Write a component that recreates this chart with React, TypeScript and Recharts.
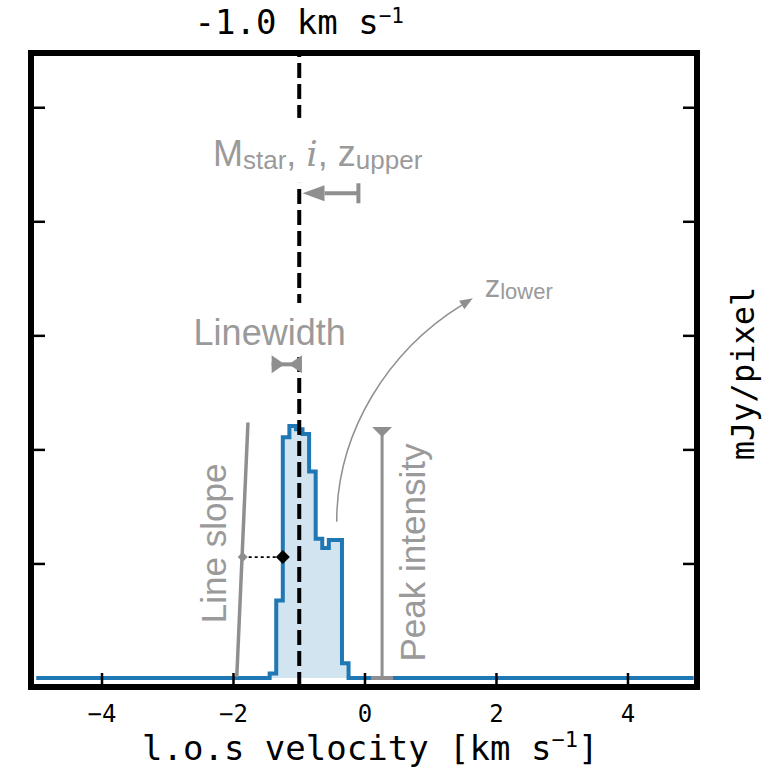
import React from "react";
import {
  ComposedChart,
  Area,
  XAxis,
  YAxis,
  ReferenceLine,
  ReferenceDot,
  ReferenceArea,
} from "recharts";

// spectrum: channel velocities (km/s) and flux (mJy/pixel, arbitrary units)
const velocity = [-5.0, -1.5, -1.4, -1.3, -1.2, -1.1, -1.0, -0.9, -0.8, -0.7, -0.6, -0.5, -0.4, -0.3, -0.2, 5.0];
const flux = [0, 0, 0.04, 0.68, 2.11, 2.21, 2.18, 2.14, 1.81, 1.22, 1.14, 1.21, 1.21, 0.13, 0, 0];

const xTicks = [-4, -2, 0, 2, 4];
const yTicks = [1, 2, 3, 4, 5];

const X_DOMAIN: [number, number] = [-5.08, 5.05];
const Y_DOMAIN: [number, number] = [-0.079, 5.48];

const channelVelocity = -1.0;

// annotation anchors, data units
const slopeLine = [{ x: -1.95, y: 0.01 }, { x: -1.78, y: 2.24 }];
const halfMax = { y: 1.06, slopeX: -1.86, edgeX: -1.25 };
const peakLine = [{ x: 0.26, y: 0 }, { x: 0.26, y: 2.2 }];
const widthBar = [{ x: -1.42, y: 2.75 }, { x: -0.96, y: 2.75 }];
const upperArrow = [{ x: -0.1, y: 4.25 }, { x: -0.95, y: 4.25 }];
const lowerCurve = [{ x: -0.43, y: 1.37 }, { x: 1.64, y: 3.33 }];

const labelMstar = { x: -0.72, y: 4.49 };
const labelLinewidth = { x: -1.45, y: 2.92 };
const labelSlope = { x: -2.3, y: 1.18 };
const labelPeak = { x: 0.72, y: 1.1 };
const labelLower = { x: 1.82, y: 3.34 };
const xTitleAt = { x: 0.08, y: Y_DOMAIN[0] };
const yTitleAt = { x: X_DOMAIN[1], y: 2.67 };

const spectrum = velocity.map((v, i) => ({ v, flux: flux[i] }));

const MONO = '"DejaVu Sans Mono", monospace';
const SANS = '"Liberation Sans", Arial, Helvetica, sans-serif';
const GRAY_TEXT = "#9a9a9a";
const GRAY_LINE = "#8f8f8f";
const BLUE = "#1f77b4";

function XTick(props: any) {
  const { x, y, payload } = props;
  const v = payload.value;
  const txt = v < 0 ? `\u2212${Math.abs(v)}` : `${v}`;
  return (
    <g>
      <line x1={x} x2={x} y1={y - 3} y2={y - 14} stroke="#000" strokeWidth={2.5} />
      <text x={x} y={y + 35} textAnchor="middle" fontFamily={MONO} fontSize={24} fill="#000">
        {txt}
      </text>
    </g>
  );
}

function LeftTick(props: any) {
  const { x, y } = props;
  return <line x1={x + 3} x2={x + 14} y1={y} y2={y} stroke="#000" strokeWidth={2.5} />;
}

function RightTick(props: any) {
  const { x, y } = props;
  return <line x1={x - 3} x2={x - 14} y1={y} y2={y} stroke="#000" strokeWidth={2.5} />;
}

function ChannelTitle(props: any) {
  const { cx, cy } = props;
  return (
    <text x={cx} y={cy - 19} textAnchor="middle" fontFamily={MONO} fontSize={34} fill="#000">
      -1.0 km s
      <tspan fontSize={21} dy={-11}>{"\u22121"}</tspan>
    </text>
  );
}

function XTitle(props: any) {
  const { cx, cy } = props;
  return (
    <text x={cx} y={cy + 73} textAnchor="middle" fontFamily={MONO} fontSize={34} fill="#000">
      l.o.s velocity [km s
      <tspan fontSize={22} dy={-13}>{"\u22121"}</tspan>
      <tspan dy={13}>]</tspan>
    </text>
  );
}

function YTitle(props: any) {
  const { cx, cy } = props;
  const x = cx + 57;
  return (
    <text
      x={x}
      y={cy}
      transform={`rotate(-90 ${x} ${cy})`}
      textAnchor="middle"
      fontFamily={MONO}
      fontSize={32}
      fill="#000"
    >
      mJy/pixel
    </text>
  );
}

function MstarLabel(props: any) {
  const { cx, cy } = props;
  return (
    <g>
      <rect x={cx - 106} y={cy - 48} width={212} height={65} fill="#fff" />
      <text x={cx} y={cy} textAnchor="middle" fontFamily={SANS} fontSize={36} fill={GRAY_TEXT}>
        M<tspan fontSize={26} dy={3}>star</tspan>
        <tspan dy={-3}>{", "}</tspan>
        <tspan fontFamily='"DejaVu Serif", serif' fontStyle="italic">i</tspan>
        <tspan>{", z"}</tspan>
        <tspan fontSize={26} dy={3}>upper</tspan>
      </text>
    </g>
  );
}

function LinewidthLabel(props: any) {
  const { cx, cy } = props;
  return (
    <g>
      <rect x={cx - 82} y={cy - 42} width={164} height={54} fill="#fff" />
      <text x={cx} y={cy} textAnchor="middle" fontFamily={SANS} fontSize={36} fill={GRAY_TEXT}>
        Linewidth
      </text>
    </g>
  );
}

function RotatedLabel(text: string) {
  return (props: any) => {
    const { cx, cy } = props;
    return (
      <text
        x={cx}
        y={cy}
        transform={`rotate(-90 ${cx} ${cy})`}
        textAnchor="middle"
        dominantBaseline="central"
        fontFamily={SANS}
        fontSize={35}
        fill={GRAY_TEXT}
      >
        {text}
      </text>
    );
  };
}

function LowerLabel(props: any) {
  const { cx, cy } = props;
  return (
    <text x={cx} y={cy} textAnchor="start" fontFamily={SANS} fontSize={31} fill={GRAY_TEXT}>
      z<tspan fontSize={22} dy={2}>lower</tspan>
    </text>
  );
}

function Diamond(size: number, fill: string) {
  return (props: any) => {
    const { cx, cy } = props;
    return (
      <polygon
        points={`${cx},${cy - size} ${cx + size},${cy} ${cx},${cy + size} ${cx - size},${cy}`}
        fill={fill}
      />
    );
  };
}

function PlainSegment(width: number, color: string, dash?: string) {
  return (props: any) => {
    const { x1, y1, x2, y2 } = props;
    return (
      <line x1={x1} y1={y1} x2={x2} y2={y2} stroke={color} strokeWidth={width} strokeDasharray={dash} />
    );
  };
}

// |---<  bar with a cap at the start and a filled head at the end
function CapArrow(props: any) {
  const { x1, y1, x2, y2 } = props;
  const dir = Math.sign(x2 - x1);
  const head = 22;
  return (
    <g>
      <line x1={x1} x2={x1} y1={y1 - 10} y2={y1 + 10} stroke={GRAY_LINE} strokeWidth={4} />
      <line x1={x1} y1={y1} x2={x2 - dir * head} y2={y2} stroke={GRAY_LINE} strokeWidth={4} />
      <polygon
        points={`${x2},${y2} ${x2 - dir * head},${y2 - 8} ${x2 - dir * head},${y2 + 8}`}
        fill={GRAY_LINE}
      />
    </g>
  );
}

// >-< bar for the linewidth
function WidthBar(props: any) {
  const { x1, y1, x2 } = props;
  const h = 13;
  return (
    <g>
      <line x1={x1} x2={x2} y1={y1} y2={y1} stroke={GRAY_LINE} strokeWidth={4} />
      <polygon points={`${x1},${y1 - 9} ${x1 + h},${y1} ${x1},${y1 + 9}`} fill={GRAY_LINE} />
      <polygon points={`${x2},${y1 - 9} ${x2 - h},${y1} ${x2},${y1 + 9}`} fill={GRAY_LINE} />
    </g>
  );
}

function PeakBar(props: any) {
  const { x1, y1, x2, y2 } = props;
  const top = Math.min(y1, y2);
  const bot = Math.max(y1, y2);
  return (
    <g>
      <line x1={x1} x2={x2} y1={bot} y2={top} stroke={GRAY_LINE} strokeWidth={3} />
      <line x1={x1 - 11} x2={x1 + 11} y1={bot} y2={bot} stroke={GRAY_LINE} strokeWidth={4} />
      <polygon points={`${x1 - 10},${top} ${x1 + 10},${top} ${x1},${top + 10}`} fill={GRAY_LINE} />
    </g>
  );
}

function CurvedArrow(props: any) {
  const { x1, y1, x2, y2 } = props;
  const dx = x2 - x1;
  const dy = y2 - y1;
  const c1x = x1;
  const c1y = y1 + 0.41 * dy;
  const c2x = x1 + 0.39 * dx;
  const c2y = y1 + 0.77 * dy;
  const ang = Math.atan2(y2 - c2y, x2 - c2x);
  const L = 13;
  const W = 5;
  const cos = Math.cos(ang);
  const sin = Math.sin(ang);
  const bx = x2 - L * cos;
  const by = y2 - L * sin;
  return (
    <g>
      <path
        d={`M${x1},${y1} C${c1x},${c1y} ${c2x},${c2y} ${bx},${by}`}
        fill="none"
        stroke={GRAY_LINE}
        strokeWidth={1.5}
      />
      <polygon
        points={`${x2},${y2} ${bx + W * sin},${by - W * cos} ${bx - W * sin},${by + W * cos}`}
        fill={GRAY_LINE}
      />
    </g>
  );
}

export default function App() {
  return (
    <div style={{ position: "absolute", left: 0, top: 0, width: 769, height: 775, background: "#fff" }}>
      <ComposedChart
        width={769}
        height={775}
        data={spectrum}
        margin={{ top: 53, right: 71, bottom: 87, left: 30 }}
      >
        <XAxis
          dataKey="v"
          type="number"
          domain={X_DOMAIN}
          allowDataOverflow
          ticks={xTicks}
          interval={0}
          height={1}
          tickSize={0}
          tickMargin={0}
          axisLine={false}
          tickLine={false}
          tick={<XTick />}
        />
        <YAxis
          yAxisId="l"
          type="number"
          domain={Y_DOMAIN}
          allowDataOverflow
          ticks={yTicks}
          interval={0}
          width={1}
          tickSize={0}
          tickMargin={0}
          axisLine={false}
          tickLine={false}
          tick={<LeftTick />}
        />
        <YAxis
          yAxisId="r"
          orientation="right"
          type="number"
          domain={Y_DOMAIN}
          allowDataOverflow
          ticks={yTicks}
          interval={0}
          width={1}
          tickSize={0}
          tickMargin={0}
          axisLine={false}
          tickLine={false}
          tick={<RightTick />}
        />

        <Area
          yAxisId="l"
          type="step"
          dataKey="flux"
          baseValue={0}
          stroke={BLUE}
          strokeWidth={4}
          fill="#d2e4f0"
          fillOpacity={1}
          dot={false}
          activeDot={false}
          isAnimationActive={false}
        />

        <ReferenceLine
          yAxisId="l"
          x={channelVelocity}
          stroke="#000"
          strokeWidth={4}
          strokeDasharray="15 6"
          zIndex={500}
        />

        <ReferenceDot yAxisId="l" x={labelMstar.x} y={labelMstar.y} r={1} shape={MstarLabel} zIndex={600} />
        <ReferenceDot yAxisId="l" x={labelLinewidth.x} y={labelLinewidth.y} r={1} shape={LinewidthLabel} zIndex={600} />

        <ReferenceLine yAxisId="l" segment={upperArrow} shape={CapArrow} zIndex={650} />
        <ReferenceLine yAxisId="l" segment={widthBar} shape={WidthBar} zIndex={650} />
        <ReferenceLine yAxisId="l" segment={slopeLine} shape={PlainSegment(3.5, GRAY_LINE)} zIndex={650} />
        <ReferenceLine yAxisId="l" segment={peakLine} shape={PeakBar} zIndex={650} />
        <ReferenceLine yAxisId="l" segment={lowerCurve} shape={CurvedArrow} zIndex={650} />
        <ReferenceLine
          yAxisId="l"
          segment={[
            { x: halfMax.slopeX, y: halfMax.y },
            { x: halfMax.edgeX, y: halfMax.y },
          ]}
          shape={PlainSegment(1.6, "#000", "3 3")}
          zIndex={650}
        />
        <ReferenceDot yAxisId="l" x={halfMax.slopeX} y={halfMax.y} r={1} shape={Diamond(5, GRAY_LINE)} zIndex={660} />
        <ReferenceDot yAxisId="l" x={halfMax.edgeX} y={halfMax.y} r={1} shape={Diamond(7, "#000")} zIndex={660} />

        <ReferenceDot yAxisId="l" x={labelSlope.x} y={labelSlope.y} r={1} shape={RotatedLabel("Line slope")} zIndex={660} />
        <ReferenceDot yAxisId="l" x={labelPeak.x} y={labelPeak.y} r={1} shape={RotatedLabel("Peak intensity")} zIndex={660} />
        <ReferenceDot yAxisId="l" x={labelLower.x} y={labelLower.y} r={1} shape={LowerLabel} zIndex={660} />

        <ReferenceDot
          yAxisId="l"
          x={channelVelocity}
          y={Y_DOMAIN[1]}
          r={1}
          ifOverflow="visible"
          shape={ChannelTitle}
          zIndex={700}
        />
        <ReferenceDot yAxisId="l" x={xTitleAt.x} y={xTitleAt.y} r={1} ifOverflow="visible" shape={XTitle} zIndex={700} />
        <ReferenceDot yAxisId="l" x={yTitleAt.x} y={yTitleAt.y} r={1} ifOverflow="visible" shape={YTitle} zIndex={700} />

        <ReferenceArea
          yAxisId="l"
          x1={X_DOMAIN[0]}
          x2={X_DOMAIN[1]}
          y1={Y_DOMAIN[0]}
          y2={Y_DOMAIN[1]}
          fill="none"
          fillOpacity={0}
          stroke="#000"
          strokeWidth={6}
          ifOverflow="visible"
          zIndex={800}
        />
      </ComposedChart>
    </div>
  );
}
